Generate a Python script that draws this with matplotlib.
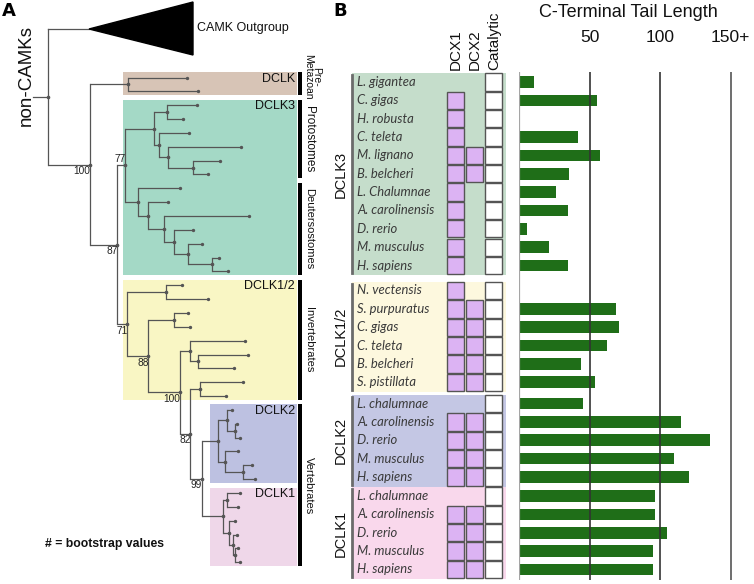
import matplotlib
matplotlib.use("Agg")
import matplotlib.pyplot as plt
from matplotlib.patches import Rectangle, Polygon
import numpy as np

# ---------------- DATA ----------------
# Panel A: phylogeny (Newick, branch lengths, bootstrap values as node labels)
tree_newick = (
    "(CAMK_Outgroup:40.7,"
    "((:58.4,:70):38.3,"
    "((((:30,:16.6):12.7,(:29.7,(:72.4,(:27.3,:15.6):24.4):9):5.3):29,"
    "(:42.3,(:20.6,(:85,(:18.4,(:13.4,(:6.7,:16):24):14):10):16.6):10):12.7)77:8,"
    "((:16,:42.6):38.7,"
    "((:13.4,:15.7):26.3,"
    "((:55,(:50.6,:36.6):7.7):10,"
    "((:43.3,:26):10,"
    "(((:5,(:1.7,:5):8.3):8.4,(:13.3,(:9.6,:12.3):17.7):6.7):16.6,"
    "((:13.3,:11.6):4,(:5.7,(:4,(:3.3,:5):2.3):3.4):6.6):21)99:11.7"
    ")82:10)100:32)88:21)71:10)87:27)100:41.7);"
)
clade_names = ["DCLK", "DCLK3", "DCLK1/2", "DCLK2", "DCLK1"]
clade_sizes = [2, 13, 9, 6, 6]
taxon_names = ["Pre-\nMetazoan", "Protostomes", "Deutersostomes", "Invertebrates", "Vertebrates"]
taxon_sizes = [2, 6, 7, 9, 12]

# Panel B: domain table and C-terminal tail lengths
groups = ["DCLK3", "DCLK1/2", "DCLK2", "DCLK1"]
dclk3_species = ["L. gigantea", "C. gigas", "H. robusta", "C. teleta", "M. lignano", "B. belcheri",
                 "L. Chalumnae", "A. carolinensis", "D. rerio", "M. musculus", "H. sapiens"]
dclk3_dcx1 = [0, 1, 1, 1, 1, 1, 1, 1, 1, 1, 1]
dclk3_dcx2 = [0, 0, 0, 0, 1, 1, 0, 0, 0, 0, 0]
dclk3_cat = [1] * 11
dclk3_tail = [10.6, 55.6, 0, 41.8, 57.3, 35.7, 26, 34.7, 5.4, 21.4, 34.7]

dclk12_species = ["N. vectensis", "S. purpuratus", "C. gigas", "C. teleta", "B. belcheri", "S. pistillata"]
dclk12_dcx1 = [1, 1, 1, 1, 1, 1]
dclk12_dcx2 = [0, 1, 1, 1, 1, 1]
dclk12_cat = [1] * 6
dclk12_tail = [0, 68.8, 70.7, 62.4, 44.2, 53.9]

dclk2_species = ["L. chalumnae", "A. carolinensis", "D. rerio", "M. musculus", "H. sapiens"]
dclk2_dcx1 = [0, 1, 1, 1, 1]
dclk2_dcx2 = [0, 1, 1, 1, 1]
dclk2_cat = [1] * 5
dclk2_tail = [45.4, 114.9, 135, 109.5, 120.6]

dclk1_species = ["L. chalumnae", "A. carolinensis", "D. rerio", "M. musculus", "H. sapiens"]
dclk1_dcx1 = [0, 1, 1, 1, 1]
dclk1_dcx2 = [0, 1, 1, 1, 1]
dclk1_cat = [1] * 5
dclk1_tail = [96.2, 96.2, 105, 95.3, 95.3]

col_labels = ["DCX1", "DCX2", "Catalytic"]
tick_vals = [50, 100, 150]
tick_labels = ["50", "100", "150+"]

# ---------------- STYLE / LAYOUT ----------------
W, H = 754, 584
SANS = ["Liberation Sans", "DejaVu Sans"]
plt.rcParams["font.family"] = SANS
LINE = "#555555"

fig = plt.figure(figsize=(W / 100, H / 100), dpi=100)
bg = fig.add_axes([0, 0, 1, 1])
bg.set_xlim(0, W)
bg.set_ylim(H, 0)
bg.axis("off")


# ---------------- Newick parser ----------------
def parse_newick(s):
    s = s.strip().rstrip(";")
    pos = 0

    def node():
        nonlocal pos
        children = []
        if s[pos] == "(":
            pos += 1
            while True:
                children.append(node())
                if s[pos] == ",":
                    pos += 1
                    continue
                if s[pos] == ")":
                    pos += 1
                    break
        st = pos
        while pos < len(s) and s[pos] not in ":,)":
            pos += 1
        label = s[st:pos]
        length = 0.0
        if pos < len(s) and s[pos] == ":":
            pos += 1
            st = pos
            while pos < len(s) and s[pos] not in ",)":
                pos += 1
            length = float(s[st:pos])
        return {"children": children, "label": label, "len": length}

    return node()


tree = parse_newick(tree_newick)

ROOT_X = 48.3
LEAF_Y0 = 77.5
LEAF_STEP = 13.85
OUTGROUP_Y = 29.0
leaf_counter = [0]


def layout(nd, x):
    nd["x"] = x + nd["len"]
    if not nd["children"]:
        if nd["label"] == "CAMK_Outgroup":
            nd["y"] = OUTGROUP_Y
        else:
            nd["y"] = LEAF_Y0 + leaf_counter[0] * LEAF_STEP
            leaf_counter[0] += 1
        return
    for c in nd["children"]:
        layout(c, nd["x"])
    nd["y"] = 0.5 * (nd["children"][0]["y"] + nd["children"][-1]["y"])


tree["len"] = 0.0
layout(tree, ROOT_X)
leaf_ys = [LEAF_Y0 + i * LEAF_STEP for i in range(leaf_counter[0])]

# clade background boxes
clade_colors = ["#d7c4b6", "#a4d9c6", "#f9f6c4", "#bdc1e1", "#efd7e9"]
clade_left = [123, 123, 123, 210, 210]
BOX_R = 297
i0 = 0
for name, n, col, xl in zip(clade_names, clade_sizes, clade_colors, clade_left):
    y_top = leaf_ys[i0] - 5.5
    y_bot = leaf_ys[i0 + n - 1] + 4
    bg.add_patch(Rectangle((xl, y_top), BOX_R - xl, y_bot - y_top, facecolor=col,
                           edgecolor="none", zorder=1))
    bg.text(BOX_R - 2, y_top + 6.5, name, ha="right", va="center", fontsize=9,
            color="#111111", zorder=5)
    i0 += n

# taxon bars
taxon_fs = [7.5, 8.5, 8, 8, 8]
i0 = 0
for name, n, fs in zip(taxon_names, taxon_sizes, taxon_fs):
    y_top = leaf_ys[i0] - 5.5
    y_bot = leaf_ys[i0 + n - 1] + 4
    bg.add_patch(Rectangle((298.3, y_top), 3.5, y_bot - y_top, facecolor="black",
                           edgecolor="none", zorder=3))
    if "\n" in name:
        bg.text(312, 0.5 * (y_top + y_bot) - 7, name, rotation=-90, ha="center",
                va="center", fontsize=fs, linespacing=0.8, color="#111111", zorder=5)
    else:
        bg.text(309, 0.5 * (y_top + y_bot), name, rotation=-90, ha="center", va="center",
                fontsize=fs, color="#111111", zorder=5)
    i0 += n


# draw tree
def draw(nd, is_first=False, parent=None):
    if parent is not None and nd["label"] != "CAMK_Outgroup":
        bg.plot([parent["x"], nd["x"]], [nd["y"], nd["y"]], color=LINE, lw=0.9, zorder=4,
                solid_capstyle="butt")
    if nd["children"]:
        ys = [c["y"] for c in nd["children"]]
        bg.plot([nd["x"], nd["x"]], [min(ys), max(ys)], color=LINE, lw=0.9, zorder=4)
        bg.plot([nd["x"]], [nd["y"]], "o", ms=1.6, color=LINE, zorder=4)
        if nd["label"]:
            if is_first:
                bg.text(nd["x"] + 0.5, nd["y"] - 1.5, nd["label"], ha="right", va="bottom",
                        fontsize=7.3, color="#222222", zorder=6)
            else:
                bg.text(nd["x"] + 0.5, nd["y"] + 1.5, nd["label"], ha="right", va="top",
                        fontsize=7.3, color="#222222", zorder=6)
        for k, c in enumerate(nd["children"]):
            draw(c, k == 0, nd)
    else:
        if nd["label"] == "CAMK_Outgroup":
            bg.plot([parent["x"], nd["x"]], [nd["y"], nd["y"]], color=LINE, lw=0.9, zorder=4)
            tip = nd["x"]
            bg.add_patch(Polygon([[tip, nd["y"]], [tip + 104, nd["y"] - 27],
                                  [tip + 104, nd["y"] + 26]], closed=True,
                                 facecolor="black", edgecolor="black", zorder=4))
            bg.text(tip + 108, nd["y"] - 1.5, "CAMK Outgroup", ha="left", va="center",
                    fontsize=9, color="#111111")
        else:
            bg.plot([nd["x"]], [nd["y"]], "o", ms=1.4, color=LINE, zorder=4)


draw(tree)
bg.plot([33, tree["x"]], [tree["y"], tree["y"]], color=LINE, lw=0.9, zorder=4)
bg.text(26, 76, "non-CAMKs", rotation=90, ha="center", va="center", fontsize=13.5,
        color="#111111")
bg.text(45, 544, "# = bootstrap values", ha="left", va="center", fontsize=8.8,
        fontweight="bold", color="#111111")
bg.text(2, 11, "A", ha="left", va="center", fontsize=13, fontweight="heavy",
        family=["DejaVu Sans"])
bg.text(333, 11, "B", ha="left", va="center", fontsize=13, fontweight="heavy",
        family=["DejaVu Sans"])

# ---------------- Panel B: table ----------------
species_lists = [dclk3_species, dclk12_species, dclk2_species, dclk1_species]
dcx1_lists = [dclk3_dcx1, dclk12_dcx1, dclk2_dcx1, dclk1_dcx1]
dcx2_lists = [dclk3_dcx2, dclk12_dcx2, dclk2_dcx2, dclk1_dcx2]
cat_lists = [dclk3_cat, dclk12_cat, dclk2_cat, dclk1_cat]
tail_lists = [dclk3_tail, dclk12_tail, dclk2_tail, dclk1_tail]
table_colors = ["#c5ddcb", "#fdf8de", "#c4c7e4", "#f9d8ec"]

ROW = 18.35
gaps = [6.65, 2.9, 0.75]
first = 82.0
row_y = []
group_rows = []
for gi, sp in enumerate(species_lists):
    ys = [first + k * ROW for k in range(len(sp))]
    group_rows.append(ys)
    row_y.extend(ys)
    if gi < len(gaps):
        first = ys[-1] + ROW + gaps[gi]

col_x = [455.3, 474.3, 493.6]
SQ = 17.3
for gi, name in enumerate(groups):
    ys = group_rows[gi]
    top, bot = ys[0] - 9, ys[-1] + 9.7
    bg.add_patch(Rectangle((352, top), 506 - 352, bot - top, facecolor=table_colors[gi],
                           edgecolor="none", zorder=1))
    bg.plot([352, 352], [top + 2, bot - 2], color="#6b6b6b", lw=2, zorder=3)
    bg.text(341, 0.5 * (top + bot), name, rotation=90, ha="center", va="center",
            fontsize=10.5, color="#111111")
    for k, y in enumerate(ys):
        bg.text(357, y, species_lists[gi][k], ha="left", va="center", fontsize=9.4,
                style="italic", family=["Lato", "DejaVu Sans"], color="#3a3a3a", zorder=5)
        flags = [dcx1_lists[gi][k], dcx2_lists[gi][k], cat_lists[gi][k]]
        for ci, f in enumerate(flags):
            if f:
                fc = "white" if ci == 2 else "#dcb3f3"
                bg.add_patch(Rectangle((col_x[ci] - SQ / 2, y - SQ / 2), SQ, SQ,
                                       facecolor=fc, edgecolor="#555555", lw=1.0, zorder=4))

for cx, lab in zip(col_x, col_labels):
    bg.text(cx + 0.5, 70, lab, rotation=90, ha="center", va="bottom", fontsize=11,
            color="#111111")

# ---------------- Panel B: bars ----------------
PX_PER_UNIT = 1.4113
bx = fig.add_axes([519 / W, (H - 580) / H, 235 / W, (580 - 72) / H])
bx.set_xlim(0, 235 / PX_PER_UNIT)
bx.set_ylim(580, 72)
bx.patch.set_alpha(0)
for sp in bx.spines.values():
    sp.set_visible(False)
bx.set_xticks([])
bx.set_yticks([])

tails = [v for tl in tail_lists for v in tl]
bx.barh(row_y, tails, height=11.7, color="#1f6e18", edgecolor="none", zorder=2)
bx.axvline(0, color="#a5a5a5", lw=1.6, zorder=3)
for v, c in zip(tick_vals, ["#333333", "#333333", "#555555"]):
    bx.axvline(v, color=c, lw=1.2, zorder=3)
for v, lab in zip(tick_vals, tick_labels):
    bx.text(v, 37.5, lab, ha="center", va="center", fontsize=12.5, color="#111111")
bg.text(628.7, 12.5, "C-Terminal Tail Length", ha="center", va="center", fontsize=13,
        color="#111111")

fig.savefig("out.png", dpi=100)
